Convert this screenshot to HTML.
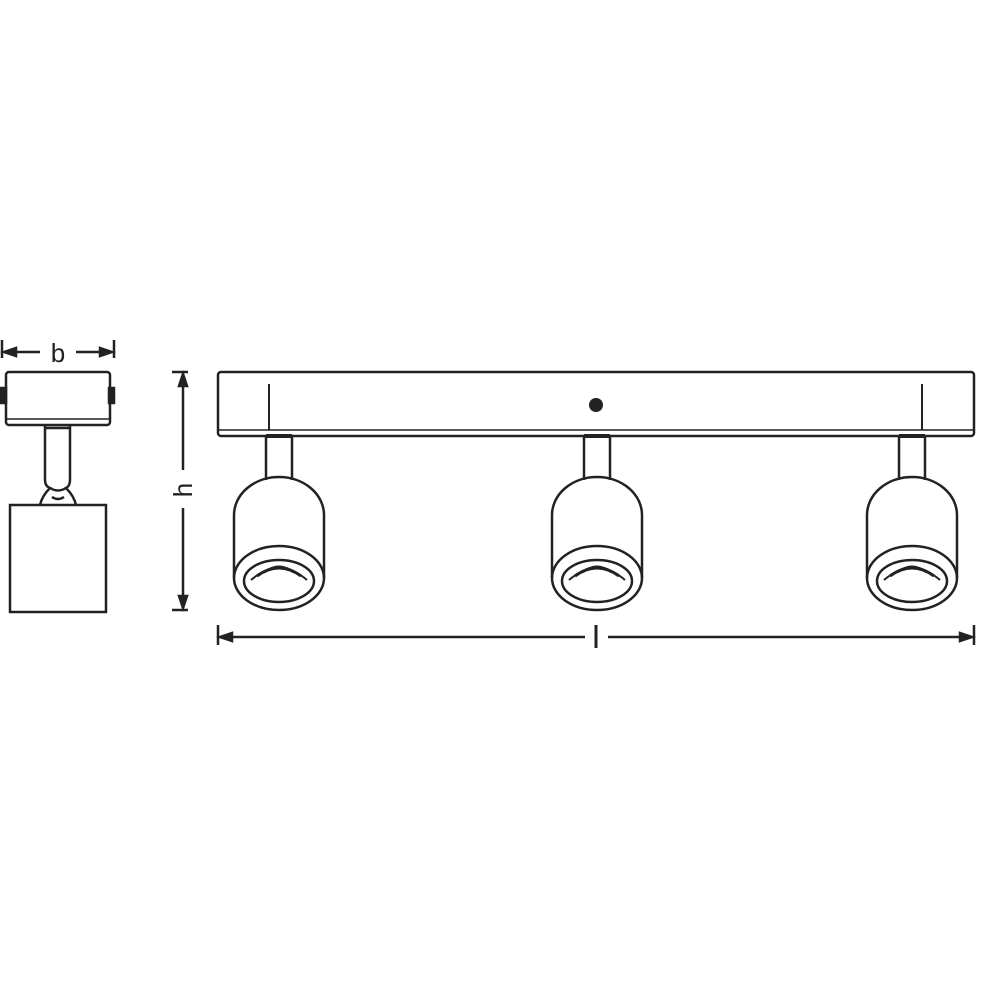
<!DOCTYPE html>
<html><head><style>html,body{margin:0;padding:0;background:#fff}svg{display:block}</style></head>
<body>
<svg width="1000" height="1000" viewBox="0 0 1000 1000" xmlns="http://www.w3.org/2000/svg" fill="none" stroke="#222" stroke-width="2.5" font-family="Liberation Sans, sans-serif">
<defs>
<g id="head">
  <path d="M-13,436 V480 M13,436 V480" />
  <line x1="-13" y1="436" x2="13" y2="436" stroke-width="4"/>
  <path d="M-45,578 V515 A45,38 0 0 1 45,515 V578" />
  <ellipse cx="0" cy="578" rx="45" ry="32"/>
  <ellipse cx="0" cy="581" rx="35" ry="21"/>
  <path d="M-28,580 Q0,556 28,580" stroke-width="2"/>
  <path d="M-22,576 Q0,560 22,576" stroke-width="3"/>
  <path d="M-15,572 Q0,563 15,572" stroke-width="3"/>
  <path d="M-8,569 Q0,565 8,569" stroke-width="3"/>
</g>
</defs>
<!-- side view -->
<line x1="2" y1="340" x2="2" y2="358"/>
<line x1="114" y1="340" x2="114" y2="358"/>
<line x1="4" y1="352" x2="40" y2="352"/><line x1="76" y1="352" x2="112" y2="352"/>
<path d="M4,352 l12,-4 v8z M112,352 l-12,-4 v8z" fill="#222"/>
<text x="58" y="362" font-size="26" fill="#222" stroke="none" text-anchor="middle">b</text>
<rect x="6" y="372" width="104" height="53" rx="3"/>
<line x1="7" y1="419" x2="109" y2="419" stroke-width="1.5"/>
<rect x="1" y="388" width="5" height="15" fill="#222"/>
<rect x="109" y="388" width="5" height="15" fill="#222"/>
<path d="M45,425 V480 Q45,486 50,488 Q42,496 40,505 M70,425 V480 Q70,486 66,488 Q74,496 76,505 M45,428 H70"/>
<path d="M50,488 Q58,493 66,488 M52,497 Q58,501 64,497"/>
<rect x="10" y="505" width="96" height="107"/>
<!-- h dimension -->
<line x1="172" y1="372" x2="188" y2="372"/><line x1="172" y1="610" x2="188" y2="610"/>
<line x1="183" y1="374" x2="183" y2="470"/><line x1="183" y1="508" x2="183" y2="608"/>
<path d="M183,374 l-4,12 h8z M183,608 l-4,-12 h8z" fill="#222"/>
<text transform="translate(192,490) rotate(-90)" font-size="26" fill="#222" stroke="none" text-anchor="middle">h</text>
<!-- bar -->
<rect x="218" y="372" width="756" height="64" rx="3"/>
<line x1="219" y1="430" x2="973" y2="430" stroke-width="1.5"/>
<circle cx="596" cy="405" r="7" fill="#222" stroke="none"/>
<line x1="269" y1="384" x2="269" y2="430" stroke-width="2"/>
<line x1="922" y1="384" x2="922" y2="430" stroke-width="2"/>
<use href="#head" transform="translate(279,0)"/>
<use href="#head" transform="translate(597,0)"/>
<use href="#head" transform="translate(912,0)"/>
<!-- l dimension -->
<line x1="218" y1="625" x2="218" y2="645"/><line x1="974" y1="625" x2="974" y2="645"/>
<line x1="220" y1="637" x2="585" y2="637"/><line x1="608" y1="637" x2="972" y2="637"/>
<path d="M220,637 l12,-4 v8z M972,637 l-12,-4 v8z" fill="#222"/>
<line x1="596" y1="625" x2="596" y2="648" stroke-width="3"/>
</svg>
</body></html>
